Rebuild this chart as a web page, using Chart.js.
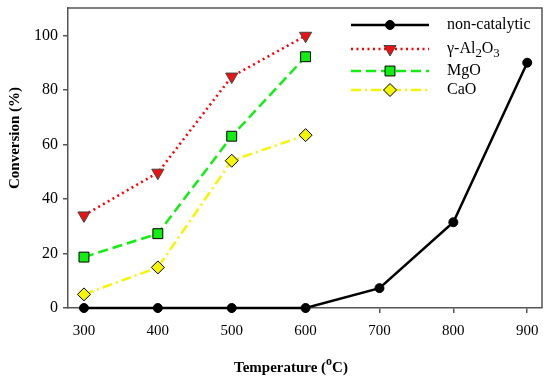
<!DOCTYPE html>
<html>
<head>
<meta charset="utf-8">
<script src="https://cdn.jsdelivr.net/npm/chart.js@4/dist/chart.umd.min.js"></script>
<style>
  html, body { margin: 0; padding: 0; background: #fff; }
  #wrap { width: 550px; height: 380px; }
</style>
</head>
<body>
<div id="wrap"><canvas id="chart" width="550" height="380"></canvas></div>
<script>
// data
const temps = [300, 400, 500, 600, 700, 800, 900];
const nonCatalytic = [0, 0, 0, 0, 7.3, 31.5, 90.1];
const catTemps = [300, 400, 500, 600];
const alumina = [34, 49.7, 85, 100];
const mgo = [18.7, 27.3, 63.1, 92.3];
const cao = [5, 14.9, 54.1, 63.5];
const xTicks = [300, 400, 500, 600, 700, 800, 900];
const yTicks = [0, 20, 40, 60, 80, 100];

const SERIF = '"Liberation Serif", "Times New Roman", serif';
const axisColor = '#555';

function pts(xs, ys) {
    return xs.map((x, i) => ({ x: x, y: ys[i] }));
}

// legend rows: label pieces (sub = subscript)
const legendLabels = [
    [{ t: 'non-catalytic' }],
    [{ t: 'γ-Al' }, { t: '2', sub: true }, { t: 'O' }, { t: '3', sub: true }],
    [{ t: 'MgO' }],
    [{ t: 'CaO' }]
];

// draws text pieces with super/subscripts
function richText(ctx, pieces, x, y, size, bold, align) {
    const f = (s) => (bold ? 'bold ' : '') + s + 'px ' + SERIF;
    const widths = pieces.map(p => {
        ctx.font = f(p.sub || p.sup ? size * 0.8 : size);
        return ctx.measureText(p.t).width;
    });
    const total = widths.reduce((a, b) => a + b, 0);
    let cx = align === 'center' ? x - total / 2 : x;
    ctx.textBaseline = 'middle';
    ctx.textAlign = 'left';
    pieces.forEach((p, i) => {
        let dy = 0;
        if (p.sub) dy = size * 0.28;
        if (p.sup) dy = -size * 0.38;
        ctx.font = f(p.sub || p.sup ? size * 0.8 : size);
        ctx.fillText(p.t, cx, y + dy);
        cx += widths[i];
    });
}

function marker(ctx, ds, x, y) {
    const r = ds.pointRadius;
    ctx.save();
    ctx.fillStyle = ds.pointBackgroundColor;
    ctx.strokeStyle = ds.pointBorderColor;
    ctx.lineWidth = ds.pointBorderWidth;
    ctx.setLineDash([]);
    ctx.beginPath();
    if (ds.pointStyle === 'circle') {
        ctx.arc(x, y, r, 0, Math.PI * 2);
    } else if (ds.pointStyle === 'triangle') {
        // pointing down
        const w = r * Math.sqrt(3) / 2;
        ctx.moveTo(x - w, y - r / 2);
        ctx.lineTo(x + w, y - r / 2);
        ctx.lineTo(x, y + r);
        ctx.closePath();
    } else if (ds.pointStyle === 'rect') {
        const s = r * Math.SQRT1_2;
        ctx.rect(x - s, y - s, 2 * s, 2 * s);
    } else {
        ctx.moveTo(x, y - r);
        ctx.lineTo(x + r, y);
        ctx.lineTo(x, y + r);
        ctx.lineTo(x - r, y);
        ctx.closePath();
    }
    ctx.fill();
    ctx.stroke();
    ctx.restore();
}

const decorPlugin = {
    id: 'decor',
    afterDraw(chart) {
        const ctx = chart.ctx;
        const a = chart.chartArea;
        ctx.save();
        // frame top + right
        ctx.strokeStyle = axisColor;
        ctx.lineWidth = 1.5;
        ctx.beginPath();
        ctx.moveTo(a.left, a.top);
        ctx.lineTo(a.right, a.top);
        ctx.lineTo(a.right, a.bottom);
        ctx.stroke();

        // legend
        const rowsY = [25, 49, 71, 90];
        chart.data.datasets.forEach((ds, i) => {
            const y = rowsY[i];
            ctx.save();
            ctx.strokeStyle = ds.borderColor;
            ctx.lineWidth = ds.borderWidth;
            ctx.setLineDash(ds.borderDash || []);
            ctx.lineCap = 'butt';
            ctx.beginPath();
            ctx.moveTo(351, y);
            ctx.lineTo(429, y);
            ctx.stroke();
            ctx.restore();
            marker(ctx, ds, 390, y);
            ctx.fillStyle = '#000';
            richText(ctx, legendLabels[i], 447, y, 16, false, 'left');
        });

        // axis titles
        ctx.fillStyle = '#000';
        richText(ctx, [{ t: 'Temperature (' }, { t: 'o', sup: true }, { t: 'C)' }], 291, 368, 15, true, 'center');
        ctx.save();
        ctx.translate(15, 138);
        ctx.rotate(-Math.PI / 2);
        richText(ctx, [{ t: 'Conversion (%)' }], 0, 0, 15, true, 'center');
        ctx.restore();
        ctx.restore();
    }
};

new Chart(document.getElementById('chart'), {
    type: 'line',
    data: {
        datasets: [
            {
                label: 'non-catalytic',
                data: pts(temps, nonCatalytic),
                borderColor: '#000',
                borderWidth: 2.5,
                pointStyle: 'circle',
                pointRadius: 4.5,
                pointBackgroundColor: '#000',
                pointBorderColor: '#000',
                pointBorderWidth: 1
            },
            {
                label: 'γ-Al2O3',
                data: pts(catTemps, alumina),
                borderColor: '#ff0000',
                borderWidth: 2.5,
                borderDash: [2, 3.5],
                pointStyle: 'triangle',
                rotation: 180,
                pointRadius: 7,
                pointBackgroundColor: '#ee1111',
                pointBorderColor: '#444',
                pointBorderWidth: 1
            },
            {
                label: 'MgO',
                data: pts(catTemps, mgo),
                borderColor: '#11ee11',
                borderWidth: 2.5,
                borderDash: [10, 5],
                pointStyle: 'rect',
                pointRadius: 7,
                pointBackgroundColor: '#11ee11',
                pointBorderColor: '#000',
                pointBorderWidth: 1
            },
            {
                label: 'CaO',
                data: pts(catTemps, cao),
                borderColor: '#f5f500',
                borderWidth: 2.5,
                borderDash: [10, 4, 2, 4],
                pointStyle: 'rectRot',
                pointRadius: 6.5,
                pointBackgroundColor: '#f5f500',
                pointBorderColor: '#000',
                pointBorderWidth: 1
            }
        ]
    },
    options: {
        responsive: false,
        animation: false,
        clip: false,
        layout: { padding: { top: 6, right: 7, left: 0, bottom: 0 } },
        plugins: {
            legend: { display: false },
            tooltip: { enabled: false }
        },
        scales: {
            x: {
                type: 'linear',
                min: 278.4,
                max: 920,
                afterBuildTicks: s => { s.ticks = xTicks.map(v => ({ value: v })); },
                afterFit: s => { s.height = 72; s.paddingLeft = 0; s.paddingRight = 0; },
                grid: { drawOnChartArea: false, drawTicks: true, tickLength: 5, color: axisColor, lineWidth: 1.5 },
                border: { color: axisColor, width: 1.5 },
                ticks: { font: { family: SERIF, size: 15 }, color: '#000', padding: 9, maxRotation: 0, autoSkip: false }
            },
            y: {
                min: 0,
                max: 110.2,
                afterBuildTicks: s => { s.ticks = yTicks.map(v => ({ value: v })); },
                afterFit: s => { s.width = 68; s.paddingTop = 0; s.paddingBottom = 0; },
                grid: { drawOnChartArea: false, drawTicks: true, tickLength: 5, color: axisColor, lineWidth: 1.5 },
                border: { color: axisColor, width: 1.5 },
                ticks: { font: { family: SERIF, size: 16 }, color: '#000', padding: 5 }
            }
        }
    },
    plugins: [decorPlugin]
});
</script>
</body>
</html>
